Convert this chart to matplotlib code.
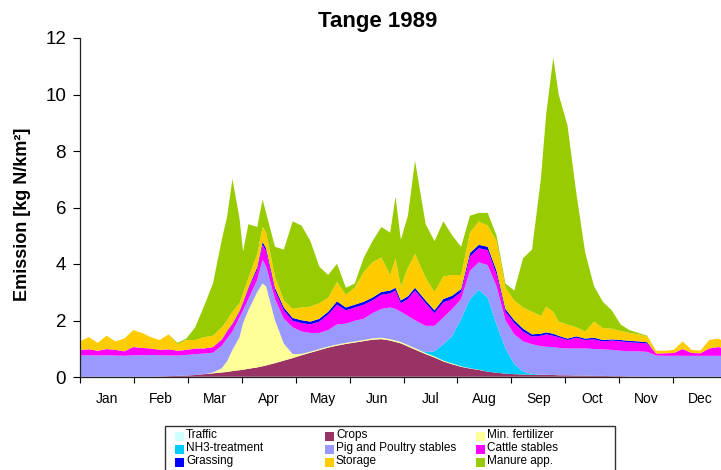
import numpy as np
import matplotlib
matplotlib.use("Agg")
import matplotlib.pyplot as plt
from matplotlib.patches import Rectangle

plt.rcParams['font.family'] = ['Liberation Sans', 'DejaVu Sans']

# ---------------- data (day of year, kg N/km2 per source) ----------------
days = [0, 5, 10, 15, 20, 25, 30, 35, 40, 45, 50, 55, 60, 65, 70, 75, 80,
        83, 86, 90, 92, 95, 100, 103, 105,
        110, 115, 120, 125, 130, 135, 140, 145, 150, 155, 160, 165, 170, 175,
        178, 181, 185, 189,
        195, 200, 205, 210, 215, 220, 225, 230, 235, 240, 245, 250, 255, 260,
        263, 267,
        270, 275, 280, 285, 290, 295, 300, 305, 310, 315, 320, 325, 330, 335,
        340, 345, 350, 355, 360, 365]

traffic = [0.01] * len(days)

crops = [0, 0, 0, 0, 0, 0, 0, 0, 0, 0.01, 0.02, 0.03, 0.04, 0.06, 0.09, 0.12, 0.15,
         0.17, 0.20, 0.23, 0.25, 0.28, 0.33, 0.37, 0.40,
         0.48, 0.57, 0.66, 0.76, 0.85, 0.94, 1.03, 1.10, 1.16, 1.21, 1.26, 1.31, 1.33, 1.28,
         1.23, 1.18, 1.07, 0.96,
         0.80, 0.68, 0.54, 0.44, 0.35, 0.29, 0.24, 0.18, 0.14, 0.11, 0.09, 0.08, 0.07, 0.06,
         0.06, 0.06,
         0.05, 0.05, 0.04, 0.04, 0.03, 0.03, 0.02, 0.02, 0.01, 0.01, 0, 0, 0, 0, 0, 0, 0, 0, 0, 0]

min_fertilizer = [0, 0, 0, 0, 0, 0, 0, 0, 0, 0, 0, 0, 0, 0, 0, 0.03, 0.15,
                  0.38, 0.75, 1.17, 1.65, 2.07, 2.67, 2.93, 2.80,
                  1.52, 0.60, 0.14, 0.05, 0.04, 0.04, 0.04, 0.04, 0.04, 0.04, 0.04, 0.05, 0.05, 0.05,
                  0.05, 0.05, 0.05, 0.05,
                  0.04, 0.04, 0.03, 0.03, 0.02, 0.01, 0.01, 0, 0, 0, 0, 0, 0, 0,
                  0, 0,
                  0, 0, 0, 0, 0, 0, 0, 0, 0, 0, 0, 0, 0, 0, 0, 0, 0, 0, 0, 0]

nh3_treatment = [0, 0, 0, 0, 0, 0, 0, 0, 0, 0, 0, 0, 0, 0, 0, 0, 0,
                 0, 0, 0, 0, 0, 0, 0, 0,
                 0, 0, 0, 0, 0, 0, 0, 0, 0, 0, 0, 0, 0, 0,
                 0, 0, 0, 0,
                 0.03, 0.18, 0.58, 0.98, 1.68, 2.45, 2.83, 2.62, 1.71, 0.89, 0.36, 0.10, 0.03, 0.01,
                 0.01, 0,
                 0, 0, 0, 0, 0, 0, 0, 0, 0, 0, 0, 0, 0, 0, 0, 0, 0, 0, 0, 0]

pig_poultry = [0.75, 0.76, 0.75, 0.76, 0.75, 0.74, 0.76, 0.76, 0.77, 0.75, 0.73, 0.72,
               0.73, 0.74, 0.73, 0.70, 0.80,
               0.80, 0.65, 0.70, 0.45, 0.40, 0.43, 0.84, 0.70,
               0.75, 0.88, 0.95, 0.79, 0.66, 0.57, 0.58, 0.71, 0.68, 0.73, 0.75, 0.89, 1.02, 1.12,
               1.12, 1.07, 1.03, 0.99,
               0.93, 0.90, 0.95, 0.95, 0.70, 1.00, 0.97, 1.15, 1.35, 1.00, 1.05, 1.07, 1.05, 1.01,
               0.99, 0.99,
               0.97, 0.95, 0.96, 0.96, 0.95, 0.94, 0.93, 0.90, 0.89, 0.89, 0.88, 0.75, 0.74, 0.74,
               0.74, 0.74, 0.74, 0.74, 0.74, 0.74]

cattle = [0.20, 0.21, 0.17, 0.22, 0.20, 0.16, 0.29, 0.26, 0.23, 0.19, 0.22, 0.17,
          0.18, 0.20, 0.18, 0.20, 0.20,
          0.25, 0.25, 0.20, 0.25, 0.35, 0.37, 0.53, 0.55,
          0.30, 0.30, 0.23, 0.30, 0.30, 0.40, 0.55, 0.70, 0.47, 0.47, 0.50, 0.45, 0.50, 0.50,
          0.65, 0.30, 0.60, 1.05,
          0.80, 0.45, 0.53, 0.35, 0.25, 0.50, 0.50, 0.53, 0.42, 0.30, 0.40, 0.35, 0.27, 0.37,
          0.44, 0.40,
          0.38, 0.30, 0.38, 0.30, 0.34, 0.28, 0.33, 0.33, 0.32, 0.30, 0.30, 0.07, 0.09, 0.10,
          0.24, 0.10, 0.09, 0.26, 0.31, 0.26]

grassing = [0, 0, 0, 0, 0, 0, 0, 0, 0, 0, 0, 0, 0, 0, 0, 0, 0.02,
            0.02, 0.03, 0.03, 0.04, 0.05, 0.08, 0.10, 0.10,
            0.10, 0.10, 0.10, 0.10, 0.10, 0.10, 0.10, 0.12, 0.10, 0.10, 0.10, 0.10, 0.10, 0.10,
            0.10, 0.10, 0.10, 0.10,
            0.10, 0.10, 0.12, 0.12, 0.10, 0.13, 0.12, 0.12, 0.13, 0.10, 0.10, 0.10, 0.08, 0.07,
            0.07, 0.07,
            0.05, 0.05, 0.05, 0.05, 0.06, 0.05, 0.04, 0.05, 0.05, 0.05, 0.04, 0, 0, 0,
            0, 0, 0, 0, 0, 0]

storage = [0.30, 0.43, 0.28, 0.47, 0.30, 0.45, 0.60, 0.53, 0.40, 0.35, 0.53, 0.23,
           0.35, 0.30, 0.40, 0.40, 0.43,
           0.38, 0.42, 0.27, 0.31, 0.35, 0.47, 0.53, 0.55,
           0.40, 0.25, 0.32, 0.45, 0.53, 0.55, 0.50, 0.68, 0.45, 0.60, 1.05, 1.25, 1.22, 0.55,
           1.05, 0.50, 1.00, 1.20,
           0.80, 0.65, 0.80, 0.73, 0.50, 0.72, 0.83, 0.75, 1.05, 0.75, 0.70, 0.75, 0.80, 0.63,
           0.91, 0.78,
           0.50, 0.50, 0.32, 0.25, 0.57, 0.42, 0.38, 0.32, 0.28, 0.25, 0.20, 0.10, 0.09, 0.11,
           0.27, 0.11, 0.09, 0.30, 0.30, 0.20]

manure_app = [0, 0, 0, 0, 0, 0, 0, 0, 0, 0, 0, 0.05, 0.05, 0.45, 1.10, 1.85, 3.10,
              3.67, 4.70, 3.00, 1.48, 1.90, 0.95, 0.97, 0.70,
              1.05, 1.80, 3.10, 2.90, 2.32, 1.30, 0.80, 0.65, 0.25, 0.15, 0.50, 0.75, 1.08, 1.50,
              2.17, 1.65, 1.85, 3.30,
              1.90, 1.80, 1.95, 1.40, 1.00, 0.60, 0.30, 0.45, 0.20, 0.15, 0.35, 1.75, 2.20, 4.85,
              6.82, 9.00,
              8.05, 7.05, 4.75, 2.80, 1.25, 0.93, 0.65, 0.23, 0.10, 0.05, 0.03, 0, 0, 0,
              0, 0, 0, 0, 0, 0]

labels = ['Traffic', 'Crops', 'Min. fertilizer', 'NH3-treatment',
          'Pig and Poultry stables', 'Cattle stables', 'Grassing', 'Storage',
          'Manure app.']
colors = ['#CCFFFF', '#993366', '#FFFF99', '#00CCFF', '#9999FF', '#FF00FF',
          '#0000FF', '#FFCC00', '#99CC00']
months = ['Jan', 'Feb', 'Mar', 'Apr', 'May', 'Jun', 'Jul', 'Aug', 'Sep', 'Oct',
          'Nov', 'Dec']

series = [traffic, crops, min_fertilizer, nh3_treatment, pig_poultry, cattle,
          grassing, storage, manure_app]
for s in series:
    assert len(s) == len(days), len(s)

# ---------------- figure ----------------
W, H = 721, 470
fig = plt.figure(figsize=(W / 100, H / 100), dpi=100)
ax = fig.add_axes([80 / W, (H - 377) / H, 647 / W, (377 - 38) / H])

ax.stackplot(days, *series, colors=colors, linewidth=0, antialiased=True)

ax.set_xlim(0, 365)
ax.set_ylim(0, 12)
ax.set_yticks(range(0, 13, 2))
ax.tick_params(axis='y', labelsize=13.5, length=5, width=0.8, pad=5,
               colors='black')

edges = np.linspace(0, 365, 13)
ax.set_xticks(edges)
ax.set_xticklabels([])
ax.set_xticks((edges[:-1] + edges[1:]) / 2, minor=True)
ax.set_xticklabels(months, minor=True)
ax.tick_params(axis='x', which='major', length=4, width=0.8)
ax.tick_params(axis='x', which='minor', length=0, pad=11, labelsize=10)

for side in ('top', 'right'):
    ax.spines[side].set_visible(False)
for side in ('left', 'bottom'):
    ax.spines[side].set_linewidth(0.9)
    ax.spines[side].set_color('#222222')

fig.text(378 / W, 1 - 27 / H, 'Tange 1989', ha='center', va='baseline',
         fontsize=16, fontweight='bold')
fig.text(23 / W, 1 - 214 / H, 'Emission [kg N/km²]', rotation=90,
         ha='center', va='center', fontsize=13, fontweight='bold')

# ---------------- legend (3 x 3 grid, row-wise) ----------------
frame = Rectangle((165 / W, (H - 476) / H), 450 / W, 50 / H,
                  transform=fig.transFigure, fill=False, edgecolor='#333333',
                  linewidth=1.0)
fig.add_artist(frame)
col_x = [175, 325, 476]
row_y = [436, 449, 462]
for i, (lab, col) in enumerate(zip(labels, colors)):
    r, c = divmod(i, 3)
    x0, yc = col_x[c], row_y[r]
    sq = Rectangle((x0 / W, (H - yc - 4.5) / H), 9 / W, 9 / H,
                   transform=fig.transFigure, facecolor=col, edgecolor='none')
    fig.add_artist(sq)
    fig.text((x0 + 11) / W, 1 - (yc - 1) / H, lab, ha='left', va='center',
             fontsize=8.5)

fig.savefig('out.png', dpi=100)
